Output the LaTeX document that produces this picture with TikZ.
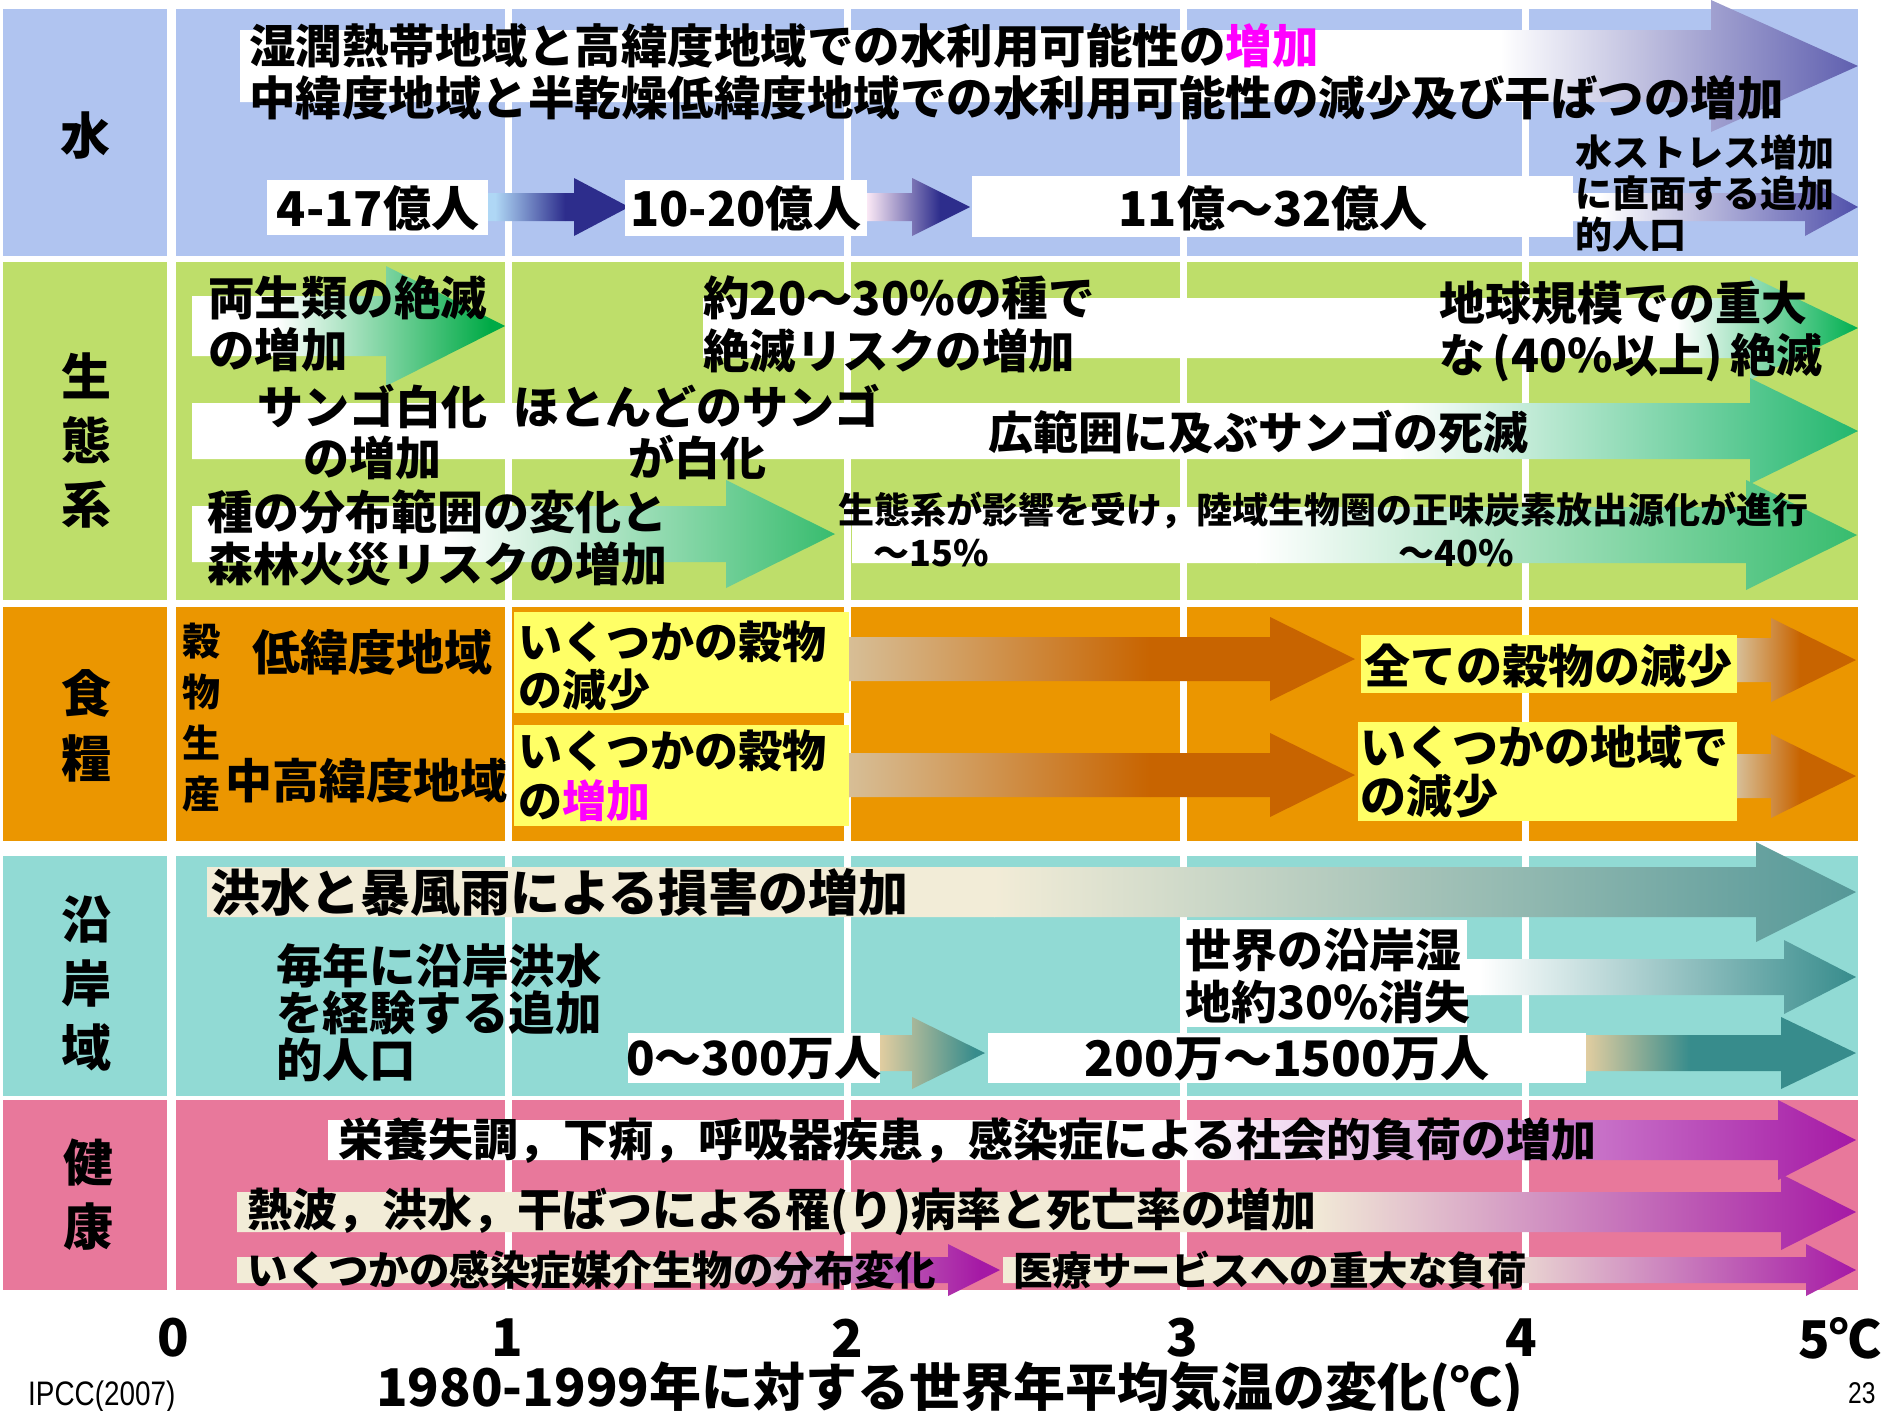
\documentclass[tikz,border=0pt]{standalone}
\usepackage{fontspec}
\newfontfamily\jpfam{Noto Sans CJK JP}
\newfontfamily\narrowf{Liberation Sans}[FakeStretch=0.82]
\newcommand\fsb[2]{\jpfam\bfseries\fontsize{#1}{#2}\selectfont}
\definecolor{cW}{RGB}{176,196,240}
\definecolor{cE}{RGB}{190,222,106}
\definecolor{cF}{RGB}{235,150,0}
\definecolor{cC}{RGB}{145,218,212}
\definecolor{cH}{RGB}{232,120,155}
\definecolor{mag}{RGB}{255,0,255}
\definecolor{yel}{RGB}{255,255,102}
\definecolor{navy}{RGB}{45,45,140}
\definecolor{wpur}{RGB}{95,95,175}
\definecolor{wpur2}{RGB}{80,80,170}
\definecolor{lblue}{RGB}{175,215,245}
\definecolor{lpink}{RGB}{250,232,245}
\definecolor{gr1}{RGB}{0,170,70}
\definecolor{gr2}{RGB}{0,175,80}
\definecolor{gr3}{RGB}{35,183,110}
\definecolor{gr4}{RGB}{55,188,110}
\definecolor{tanc}{RGB}{215,190,150}
\definecolor{dor}{RGB}{200,100,0}
\definecolor{cream}{RGB}{242,236,215}
\definecolor{teal}{RGB}{85,152,152}
\definecolor{dteal}{RGB}{55,140,140}
\definecolor{ctan}{RGB}{225,205,160}
\definecolor{pur}{RGB}{165,25,165}
\newcommand\AC[2]{\colorlet{ca}{#1}\colorlet{cb}{#2}}
% #1 xs, #2 head base, #3 tip, #4 yc, #5 half body, #6 half head, #7 grad start, #8 grad end
\newcommand\GA[8]{%
  \begin{scope}
    \clip (#1,#4-#5) -- (#2,#4-#5) -- (#2,#4-#6) -- (#3,#4) -- (#2,#4+#6) -- (#2,#4+#5) -- (#1,#4+#5) -- cycle;
    \fill[ca] (#1-1,#4-#6-1) rectangle (#7+0.5,#4+#6+1);
    \shade[left color=ca,right color=cb] (#7,#4-#6-1) rectangle (#8,#4+#6+1);
    \fill[cb] (#8-0.5,#4-#6-1) rectangle (#3+1,#4+#6+1);
  \end{scope}}
\begin{document}
\begin{tikzpicture}[x=1pt,y=-1pt,
  tx/.style={inner sep=0pt,anchor=west,align=left},
  tc/.style={inner sep=0pt,anchor=center,align=center},
  lab/.style={inner sep=0pt,anchor=center,align=center,font=\fsb{50}{64}},
  wbox/.style={fill=white},
  ybox/.style={fill=yel}]
\useasboundingbox (0,0) rectangle (1883,1411);
\fill[white] (0,0) rectangle (1883,1411);
% backgrounds
\fill[cW] (3,9) rectangle (167,256);   \fill[cW] (176,9) rectangle (1858,256);
\fill[cE] (3,262) rectangle (167,600); \fill[cE] (176,262) rectangle (1858,600);
\fill[cF] (3,607) rectangle (167,841); \fill[cF] (176,607) rectangle (1858,841);
\fill[cC] (3,856) rectangle (167,1096); \fill[cC] (176,856) rectangle (1858,1096);
\fill[cH] (3,1100) rectangle (167,1290); \fill[cH] (176,1100) rectangle (1858,1290);
\foreach \x in {508,847,1183,1525} \fill[white] (\x-3.5,0) rectangle (\x+3.5,1300);
% labels
\node[lab] (lw) at (85,136) {水};
\node[lab] (le) at (86,440) {生\\態\\系};
\node[lab,font=\fsb{50}{65}] (lf) at (86,726) {食\\糧};
\node[lab] (lc) at (86,983) {沿\\岸\\域};
\node[lab] (lh) at (88,1195) {健\\康};

% ===== water
\AC{white}{wpur}\GA{240}{1711}{1858}{66}{36}{66}{1500}{1858}
\node[tx,font=\fsb{46.5}{52}] (w1) at (249,46) {湿潤熱帯地域と高緯度地域での水利用可能性の{\color{mag}増加}};
\node[tx,font=\fsb{46.5}{52}] (w2) at (249,98) {中緯度地域と半乾燥低緯度地域での水利用可能性の減少及び干ばつの増加};
\fill[wbox] (267,180) rectangle (488,235);
\node[tc,font=\fsb{48}{52}] (wa) at (378,208) {4-17億人};
\AC{lblue}{navy}\GA{488}{574}{629}{207}{14}{29}{495}{565}
\fill[wbox] (625,180) rectangle (867,236);
\node[tc,font=\fsb{48}{52}] (wb) at (746,208) {10-20億人};
\AC{lpink}{navy}\GA{867}{912}{970}{207}{14}{29}{867}{940}
\fill[wbox] (972,176) rectangle (1573,237);
\node[tc,font=\fsb{48}{52}] (wc) at (1273,208) {11億～32億人};
\AC{white}{wpur2}\GA{1573}{1805}{1858}{207}{14}{29}{1600}{1858}
\node[tx,font=\fsb{37}{41}] (wd) at (1575,193) {水ストレス増加\\に直面する追加\\的人口};

% ===== ecosystems
\AC{white}{gr1}\GA{192}{386}{505}{326}{30}{60}{276}{490}
\node[tx,font=\fsb{46.5}{52}] (e1) at (208,324) {両生類の絶滅\\の増加};
\AC{white}{gr2}\GA{703}{1750}{1858}{328}{30}{52}{1677}{1858}
\node[tx,font=\fsb{46.5}{53}] (e2) at (703,324) {約20～30\%の種で\\絶滅リスクの増加};
\node[tx,font=\fsb{46}{52}] (e3) at (1439,331) {地球規模での重大\\な\,(40\%以上)\,絶滅};
\AC{white}{gr3}\GA{192}{1750}{1858}{431}{28}{53}{1400}{1858}
\node[tc,font=\fsb{46}{51}] (e4) at (372,432) {サンゴ白化\\の増加};
\node[tc,font=\fsb{46}{51}] (e5) at (697,432) {ほとんどのサンゴ\\が白化};
\node[tc,font=\fsb{45}{51}] (e6) at (1258,432) {広範囲に及ぶサンゴの死滅};
\AC{white}{gr4}\GA{852}{1746}{1857}{535}{28}{55}{1256}{1857}
\AC{white}{gr4}\GA{192}{726}{835}{534}{28}{54}{448}{835}
\node[tx,font=\fsb{46}{52}] (e7) at (207,538) {種の分布範囲の変化と\\森林火災リスクの増加};
\node[tx,font=\fsb{36}{40}] (e8) at (838,510) {生態系が影響を受け，陸域生物圏の正味炭素放出源化が進行};
\node[tc,font=\fsb{36}{40}] (e9) at (931,553) {～15\%};
\node[tc,font=\fsb{36}{40}] (e10) at (1456,553) {～40\%};

% ===== food
\node[tc,font=\fsb{38}{51}] (f0) at (201,717) {穀\\物\\生\\産};
\node[tx,font=\fsb{48}{52}] (f1) at (252,652) {低緯度地域};
\node[tx,font=\fsb{47}{52}] (f2) at (225,781) {中高緯度地域};
\fill[ybox] (514,612) rectangle (849,713);
\node[tx,font=\fsb{44}{48}] (f3) at (518,666) {いくつかの穀物\\の減少};
\fill[ybox] (514,725) rectangle (849,826);
\node[tx,font=\fsb{44}{50}] (f4) at (518,776) {いくつかの穀物\\の{\color{mag}増加}};
\AC{tanc}{dor}\GA{849}{1270}{1355}{659}{22}{42}{849}{1150}
\AC{tanc}{dor}\GA{849}{1270}{1355}{775}{22}{42}{849}{1150}
\fill[ybox] (1361,635) rectangle (1737,693);
\node[tc,font=\fsb{46}{50}] (f5) at (1548,666) {全ての穀物の減少};
\AC{tanc}{dor}\GA{1737}{1771}{1856}{660}{22}{42}{1737}{1800}
\fill[ybox] (1358,722) rectangle (1737,821);
\node[tx,font=\fsb{46}{49}] (f6) at (1360,772) {いくつかの地域で\\の減少};
\AC{tanc}{dor}\GA{1737}{1771}{1856}{776}{22}{42}{1737}{1800}

% ===== coast
\AC{cream}{teal}\GA{207}{1756}{1856}{892}{25}{50}{994}{1856}
\node[tx,font=\fsb{50}{54}] (c1) at (210,892) {洪水と暴風雨による損害の増加};
\node[tx,font=\fsb{46.5}{47}] (c2) at (276,1013) {毎年に沿岸洪水\\を経験する追加\\的人口};
\fill[wbox] (628,1033) rectangle (880,1083);
\node[tc,font=\fsb{47}{50}] (c3) at (754,1058) {0～300万人};
\AC{ctan}{dteal}\GA{880}{912}{985}{1053}{18}{36}{880}{975}
\fill[wbox] (988,1033) rectangle (1586,1083);
\node[tc,font=\fsb{49}{50}] (c4) at (1287,1058) {200万～1500万人};
\AC{ctan}{dteal}\GA{1586}{1781}{1856}{1053}{18}{36}{1586}{1690}
\fill[wbox] (1182,920) rectangle (1467,1027);
\node[tx,font=\fsb{46}{52}] (c5) at (1185,976) {世界の沿岸湿\\地約30\%消失};
\AC{white}{dteal}\GA{1467}{1784}{1856}{977}{18}{37}{1480}{1856}

% ===== health
\AC{white}{pur}\GA{328}{1778}{1856}{1140}{20}{40}{1182}{1856}
\node[tx,font=\fsb{45}{50}] (h1) at (338,1140) {栄養失調，下痢，呼吸器疾患，感染症による社会的負荷の増加};
\AC{cream}{pur}\GA{237}{1781}{1856}{1212}{20}{38}{1307}{1856}
\node[tx,font=\fsb{45}{50}] (h2) at (247,1212) {熱波，洪水，干ばつによる罹(り)病率と死亡率の増加};
\AC{cream}{pur}\GA{237}{948}{1000}{1270}{13}{26}{700}{980}
\node[tx,font=\fsb{40.5}{45}] (h3) at (247,1270) {いくつかの感染症媒介生物の分布変化};
\AC{cream}{pur}\GA{1003}{1806}{1856}{1270}{13}{26}{1480}{1856}
\node[tx,font=\fsb{39.5}{45}] (h4) at (1013,1270) {医療サービスへの重大な負荷};

% ===== axis
\node[tc,font=\fsb{52}{56}] (x0) at (173,1338) {0};
\node[tc,font=\fsb{52}{56}] (x1) at (507,1338) {1};
\node[tc,font=\fsb{52}{56}] (x2) at (847,1338) {2};
\node[tc,font=\fsb{52}{56}] (x3) at (1182,1338) {3};
\node[tc,font=\fsb{52}{56}] (x4) at (1521,1338) {4};
\node[inner sep=0pt,anchor=east,font=\fsb{52}{56}] (x5) at (1882,1338) {5℃};
\node[tx,font=\narrowf\fontsize{34}{36}\selectfont] (src) at (28,1397) {IPCC(2007)};
\node[tx,font=\fsb{52}{56}] (xt) at (376,1389) {1980-1999年に対する世界年平均気温の変化(℃)};
\node[tx,font=\narrowf\fontsize{30}{32}\selectfont] (pg) at (1848,1393) {23};
\end{tikzpicture}
\end{document}
